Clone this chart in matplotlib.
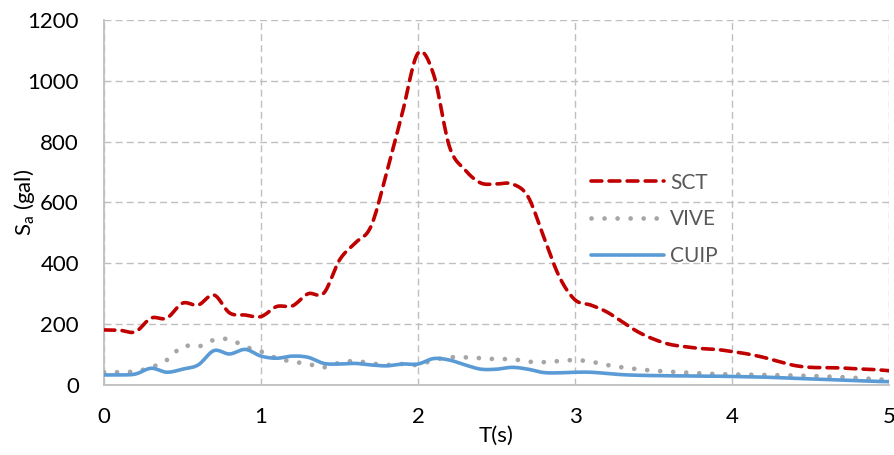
import matplotlib
matplotlib.use("Agg")
import matplotlib.pyplot as plt
import numpy as np

periods = [round(0.1 * i, 1) for i in range(51)]

sct = [181, 180, 175, 220, 220, 269, 263, 296, 237, 230,
       225, 258, 260, 300, 302, 411, 467, 521, 697, 894,
       1091, 1020, 784, 707, 664, 661, 661, 620, 488, 356,
       280, 263, 241, 208, 175, 151, 134, 126, 120, 117,
       110, 102, 91, 77, 64, 58, 57, 56, 53, 51, 47]

vive = [42, 42, 45, 58, 82, 127, 126, 148, 150, 126,
        110, 88, 77, 69, 58, 73, 79, 71, 66, 69,
        66, 82, 91, 91, 88, 85, 85, 77, 75, 79,
        82, 77, 66, 58, 52, 47, 44, 41, 38, 36,
        35, 34, 33, 32, 31, 30, 28, 26, 23, 20, 16]

cuip = [33, 33, 36, 55, 42, 52, 66, 113, 102, 117,
        95, 88, 95, 91, 71, 69, 71, 66, 63, 69,
        69, 87, 82, 66, 52, 52, 58, 52, 41, 40,
        42, 42, 38, 34, 32, 31, 30, 30, 29, 29,
        28, 27, 26, 24, 22, 20, 18, 16, 14, 12, 11]

series_names = ["SCT", "VIVE", "CUIP"]
x_ticks = [0, 1, 2, 3, 4, 5]
y_ticks = [0, 200, 400, 600, 800, 1000, 1200]


def smooth_path(xs, ys, steps=12):
    """Catmull-Rom rendering of a line through the given points (Excel 'smoothed line')."""
    xs = np.asarray(xs, float)
    ys = np.asarray(ys, float)
    px = np.concatenate([[2 * xs[0] - xs[1]], xs, [2 * xs[-1] - xs[-2]]])
    py = np.concatenate([[2 * ys[0] - ys[1]], ys, [2 * ys[-1] - ys[-2]]])
    t = np.linspace(0, 1, steps, endpoint=False)
    outx, outy = [], []
    for i in range(1, len(px) - 2):
        for arr, out in ((px, outx), (py, outy)):
            p0, p1, p2, p3 = arr[i - 1], arr[i], arr[i + 1], arr[i + 2]
            out.extend(0.5 * ((2 * p1) + (-p0 + p2) * t
                              + (2 * p0 - 5 * p1 + 4 * p2 - p3) * t ** 2
                              + (-p0 + 3 * p1 - 3 * p2 + p3) * t ** 3))
    outx.append(xs[-1])
    outy.append(ys[-1])
    return np.array(outx), np.array(outy)


plt.rcParams['font.family'] = ['Lato', 'DejaVu Sans']

fig = plt.figure(figsize=(8.95, 4.55), dpi=100)
ax = fig.add_axes([104 / 895, 1 - 385 / 455, 785 / 895, 365 / 455])

lw = 2.6
sx, sy = smooth_path(periods, sct)
ax.plot(sx, sy, color="#c00000", lw=lw, linestyle=(0, (3.0, 2.0)),
        dash_capstyle="round", solid_joinstyle="round", label=series_names[0], zorder=3)
vx, vy = smooth_path(periods, vive)
ax.plot(vx, vy, color="#a6a6a6", lw=3.4, linestyle=(0, (0.01, 2.75)),
        dash_capstyle="round", label=series_names[1], zorder=3)
cx, cy = smooth_path(periods, cuip)
ax.plot(cx, cy, color="#5b9bd5", lw=lw, linestyle="-",
        solid_capstyle="round", solid_joinstyle="round", label=series_names[2], zorder=3)

ax.set_xlim(0, 5)
ax.set_ylim(0, 1200)
ax.set_xticks(x_ticks)
ax.set_yticks(y_ticks)
ax.set_xticklabels([str(t) for t in x_ticks])
ax.set_yticklabels([str(t) for t in y_ticks])

ax.grid(True, color="#bfbfbf", linestyle=(0, (5, 3)), linewidth=1.0, zorder=0)
ax.set_axisbelow(True)
for s in ["top", "right"]:
    ax.spines[s].set_visible(False)
for s in ["left", "bottom"]:
    ax.spines[s].set_color("#bfbfbf")
    ax.spines[s].set_linewidth(1.3)
ax.tick_params(axis="y", length=0, labelsize=16, colors="#000000", pad=18)
ax.tick_params(axis="x", length=0, labelsize=16, colors="#000000", pad=16)

ax.set_xlabel("T(s)", fontsize=16, labelpad=-1)
ax.set_ylabel(r"S$_{\mathregular{a}}$ (gal)", fontsize=16, labelpad=-7)

leg = ax.legend(loc="upper left", bbox_to_anchor=(0.61, 0.605), frameon=False,
                fontsize=15, handlelength=3.5, handletextpad=0.3,
                labelspacing=0.8, borderaxespad=0)
for t in leg.get_texts():
    t.set_color("#595959")

fig.savefig("out.png", dpi=100)
